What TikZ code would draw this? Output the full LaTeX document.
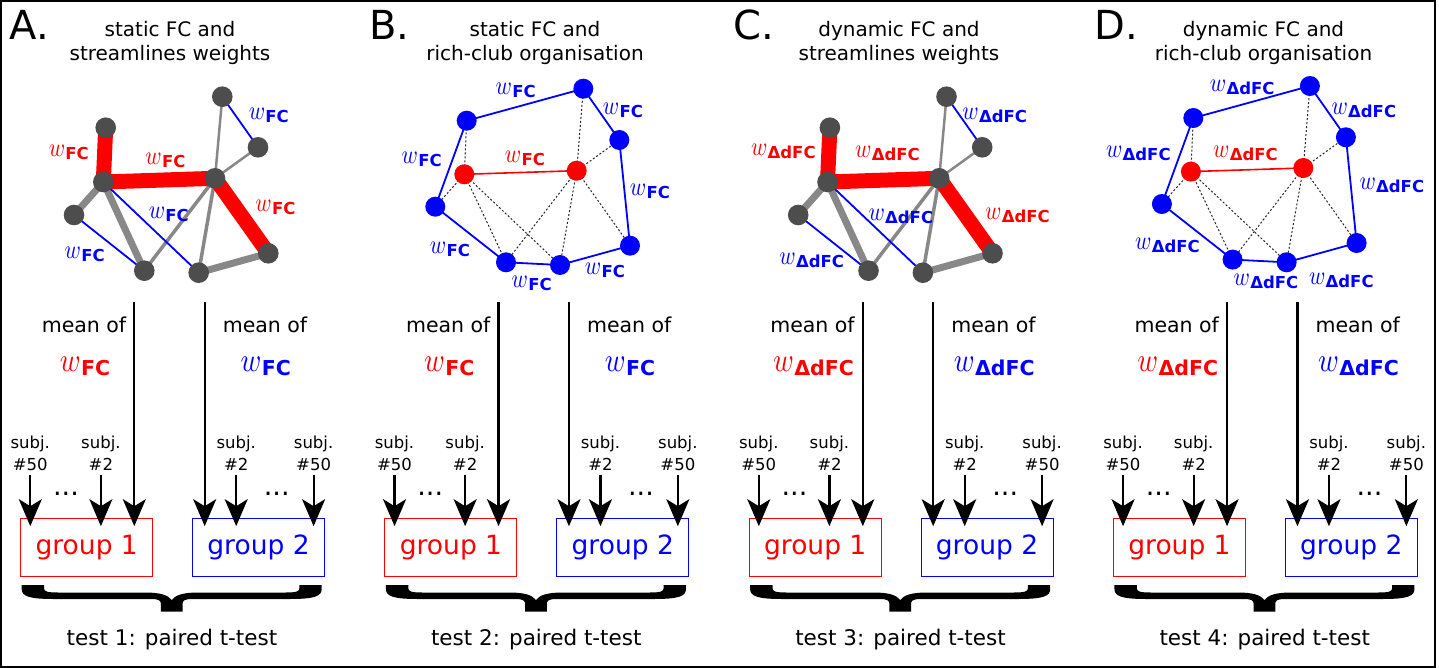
\documentclass[tikz,border=0pt]{standalone}
\usepackage[no-math]{fontspec}
\setmainfont{DejaVu Sans}
\DeclareFontFamily{OML}{cmm}{\skewchar\font'177}
\DeclareFontShape{OML}{cmm}{m}{it}{<->cmmi10}{}
\usetikzlibrary{arrows.meta,calc,backgrounds}
\definecolor{ngray}{RGB}{77,77,77}
\definecolor{egray}{RGB}{136,136,136}
\newcommand{\wl}[1]{\fontsize{22}{24}\selectfont\scalebox{1}[1.2]{$w$}\kern0.3pt\raisebox{-3pt}{\fontsize{16.5}{18}\selectfont\bfseries #1}}
\newcommand{\wL}[1]{\fontsize{28}{30}\selectfont\scalebox{1}[1.2]{$w$}\kern0.4pt\raisebox{-3.8pt}{\fontsize{20.5}{22}\selectfont\bfseries #1}}
\newcommand{\streamgraph}{%
  \node[gnode] (n1) at (105.7,127.7) {};
  \node[gnode] (n2) at (103.3,182) {};
  \node[gnode] (n3) at (74,215) {};
  \node[gnode] (n4) at (144.3,270.7) {};
  \node[gnode] (n5) at (198.7,272.7) {};
  \node[gnode] (n6) at (215,178.3) {};
  \node[gnode] (n7) at (268.3,253.3) {};
  \node[gnode] (n8) at (222.3,96.7) {};
  \node[gnode] (n9) at (258,147.3) {};
  \begin{pgfonlayer}{background}
    \draw[graythick] (n2.center) -- (n3.center);
    \draw[graythick] (n2.center) -- (n4.center);
    \draw[graythick] (n5.center) -- (n7.center);
    \draw[graythin] (n4.center) -- (n6.center);
    \draw[graythin] (n5.center) -- (n6.center);
    \draw[graythinner] (n6.center) -- (n8.center);
    \draw[graythinner] (n6.center) -- (n9.center);
    \draw[blueedge] (n8.center) -- (n9.center);
    \draw[blueedge] (n3.center) -- (n4.center);
    \draw[blueedge] (n2.center) -- (n5.center);
    \draw[redthick] (n1.center) -- (n2.center);
    \draw[redthick] (n2.center) -- (n6.center);
    \draw[redthick] (n6.center) -- (n7.center);
  \end{pgfonlayer}
}
\newcommand{\richgraph}{%
  \node[bnode] (b1) at (466.7,120.7) {};
  \node[bnode] (b2) at (583.3,88.7) {};
  \node[bnode] (b3) at (619.3,140) {};
  \node[rnode] (b4) at (464.3,174.3) {};
  \node[rnode] (b5) at (576.7,170.7) {};
  \node[bnode] (b6) at (435.3,206.7) {};
  \node[bnode] (b7) at (630,245.7) {};
  \node[bnode] (b8) at (506,262.3) {};
  \node[bnode] (b9) at (560,265) {};
  \begin{pgfonlayer}{background}
    \draw[dotedge] (b4.center) -- (b1.center);
    \draw[dotedge] (b4.center) -- (b6.center);
    \draw[dotedge] (b4.center) -- (b8.center);
    \draw[dotedge] (b4.center) -- (b9.center);
    \draw[dotedge] (b5.center) -- (b2.center);
    \draw[dotedge] (b5.center) -- (b3.center);
    \draw[dotedge] (b5.center) -- (b8.center);
    \draw[dotedge] (b5.center) -- (b9.center);
    \draw[dotedge] (b5.center) -- (b7.center);
    \draw[blueedge] (b1.center) -- (b2.center) -- (b3.center) -- (b7.center) -- (b9.center) -- (b8.center) -- (b6.center) -- cycle;
    \draw[rededge] (b4.center) -- (b5.center);
  \end{pgfonlayer}
}
\newcommand{\lowerpart}[2]{%
  \node[meanlab] (m1) at (84,325) {mean of};
  \node[meanlab] (m2) at (265,325) {mean of};
  \node[wlab, text=red] (wa) at (85,366.7) {\wL{#1}};
  \node[wlab, text=blue] (wb) at (265.7,366.7) {\wL{#1}};
  \node[grp, draw=red, text=red] (g1) at (86.7,547.5) {group 1};
  \node[grp, draw=blue, text=blue] (g2) at (258.5,547.5) {group 2};
  \node[subj] (sa) at (30.3,470.7) {subj.\\\#50};
  \node[subj] (sb) at (100.9,470.7) {subj.\\\#2};
  \node[subj] (sc) at (236.2,470.7) {subj.\\\#2};
  \node[subj] (sd) at (313.6,470.7) {subj.\\\#50};
  \node[dotlab] (da) at (66,494) {...};
  \node[dotlab] (db) at (276.7,494) {...};
  \coordinate (ta) at (134.3,302);
  \coordinate (tb) at (204.7,302);
  \draw[arr] (ta) -- ($(ta |- g1.north)+(0,8.4)$);
  \draw[arr] (tb) -- ($(tb |- g2.north)+(0,8.4)$);
  \draw[arr] ([yshift=-4.3pt]sa.south) -- ($(sa.south |- g1.north)+(0,8.4)$);
  \draw[arr] ([yshift=-4.3pt]sb.south) -- ($(sb.south |- g1.north)+(0,8.4)$);
  \draw[arr] ([yshift=-4.3pt]sc.south) -- ($(sc.south |- g2.north)+(0,8.4)$);
  \draw[arr] ([yshift=-4.3pt]sd.south) -- ($(sd.south |- g2.north)+(0,8.4)$);
  \fill (21.7,585) -- (44,585) -- (44,588) .. controls (44,591.5) and (47,592.5) .. (58,592.5)
    -- (145,592.5) .. controls (160,592.5) and (168,595) .. (171.7,600)
    .. controls (175.4,595) and (183.4,592.5) .. (198.4,592.5) -- (285.4,592.5)
    .. controls (296.4,592.5) and (299.4,591.5) .. (299.4,588) -- (299.4,585) -- (321.7,585)
    -- (321.7,589) .. controls (321.7,596) and (315,599) .. (290,599) -- (192,599)
    .. controls (184,599) and (182.5,601) .. (182.5,604) -- (182.5,611.5) -- (160.9,611.5)
    -- (160.9,604) .. controls (160.9,601) and (159.4,599) .. (151.4,599) -- (53.4,599)
    .. controls (28.4,599) and (21.7,596) .. (21.7,589) -- cycle;
  \node[testlab] (tt) at (172,639.3) {test #2: paired t-test};
}
\begin{document}
\begin{tikzpicture}[x=1pt,y=-1pt,
  gnode/.style={circle, fill=ngray, minimum size=20.6pt, inner sep=0pt},
  bnode/.style={circle, fill=blue, minimum size=20pt, inner sep=0pt},
  rnode/.style={circle, fill=red, minimum size=20pt, inner sep=0pt},
  redthick/.style={red, line width=15pt},
  graythick/.style={egray, line width=7pt},
  graythin/.style={egray, line width=3.5pt},
  graythinner/.style={egray, line width=2.5pt},
  blueedge/.style={blue, line width=1.8pt},
  rededge/.style={red, line width=1.6pt},
  dotedge/.style={black!85, line width=1pt, dash pattern=on 2pt off 2pt},
  wlab/.style={inner sep=0pt},
  letter/.style={anchor=base west, inner sep=0pt, font=\fontsize{40}{44}\selectfont},
  title/.style={align=center, inner sep=0pt, font=\fontsize{20}{24.7}\selectfont},
  meanlab/.style={inner sep=0pt, font=\fontsize{20.5}{24}\selectfont},
  grp/.style={minimum width=132pt, minimum height=58.4pt, inner sep=0pt, line width=1pt, font=\fontsize{26.5}{30}\selectfont},
  subj/.style={anchor=south, align=center, inner sep=0pt, font=\fontsize{16.5}{21.7}\selectfont},
  dotlab/.style={inner sep=0pt, font=\fontsize{27}{30}\selectfont},
  testlab/.style={inner sep=0pt, font=\fontsize{21.5}{24}\selectfont},
  arr/.style={line width=2.2pt, -{Stealth[length=27pt,width=23pt,inset=7pt]}}
]
\useasboundingbox (0,0) rectangle (1439,668);
\draw[line width=2pt] (1,1) rectangle (1434.5,667);

\node[letter] (LA) at (9.7,39.3) {A.};
\node[letter] (LB) at (368.8,39.3) {B.};
\node[letter] (LC) at (733.5,39.3) {C.};
\node[letter] (LD) at (1094,39.3) {D.};

\node[title] (TA) at (170,43.1) {static FC and\\streamlines weights};
\node[title] (TB) at (535,43.1) {static FC and\\rich-club organisation};
\node[title] (TC) at (899,43.1) {dynamic FC and\\streamlines weights};
\node[title] (TD) at (1263.5,43.1) {dynamic FC and\\rich-club organisation};

% Panel A graph
\begin{scope}[name prefix=A-]
  \streamgraph
  \node[wlab,text=red] (l1) at (68.8,152) {\wl{FC}};
  \node[wlab,text=red] (l2) at (165.5,160) {\wl{FC}};
  \node[wlab,text=red] (l3) at (275.5,207) {\wl{FC}};
  \node[wlab,text=blue] (l4) at (268.8,115) {\wl{FC}};
  \node[wlab,text=blue] (l5) at (168.8,214) {\wl{FC}};
  \node[wlab,text=blue] (l6) at (84.7,254) {\wl{FC}};
\end{scope}

% Panel B graph
\begin{scope}[name prefix=B-]
  \richgraph
  \node[wlab,text=blue] (l1) at (515.7,90.7) {\wl{FC}};
  \node[wlab,text=blue] (l2) at (623,110) {\wl{FC}};
  \node[wlab,text=blue] (l3) at (421.7,159) {\wl{FC}};
  \node[wlab,text=red] (l4) at (525,158.7) {\wl{FC}};
  \node[wlab,text=blue] (l5) at (650,191.7) {\wl{FC}};
  \node[wlab,text=blue] (l6) at (450,249) {\wl{FC}};
  \node[wlab,text=blue] (l7) at (531.7,283.3) {\wl{FC}};
  \node[wlab,text=blue] (l8) at (605,270) {\wl{FC}};
\end{scope}

% Panel C graph
\begin{scope}[xshift=724.2pt, name prefix=C-]
  \streamgraph
  \node[wlab,text=red] (l1) at (59.1,151.7) {\wl{ΔdFC}};
  \node[wlab,text=red] (l2) at (163.3,153.3) {\wl{ΔdFC}};
  \node[wlab,text=red] (l3) at (293.3,215) {\wl{ΔdFC}};
  \node[wlab,text=blue] (l4) at (270.5,115) {\wl{ΔdFC}};
  \node[wlab,text=blue] (l5) at (176.6,216.7) {\wl{ΔdFC}};
  \node[wlab,text=blue] (l6) at (87.5,260) {\wl{ΔdFC}};
\end{scope}

% Panel D graph
\begin{scope}[xshift=726.6pt, yshift=2.7pt, name prefix=D-]
  \richgraph
  \node[wlab,text=blue] (l1) at (515.6,90) {\wl{ΔdFC}};
  \node[wlab,text=blue] (l2) at (637.2,112.7) {\wl{ΔdFC}};
  \node[wlab,text=blue] (l3) at (411.7,156) {\wl{ΔdFC}};
  \node[wlab,text=red] (l4) at (518.9,156) {\wl{ΔdFC}};
  \node[wlab,text=blue] (l5) at (665.2,187.7) {\wl{ΔdFC}};
  \node[wlab,text=blue] (l6) at (440.9,247.7) {\wl{ΔdFC}};
  \node[wlab,text=blue] (l7) at (539.4,284.4) {\wl{ΔdFC}};
  \node[wlab,text=blue] (l8) at (614.7,282.7) {\wl{ΔdFC}};
\end{scope}

% Lower parts
\begin{scope}[name prefix=P1-]
  \lowerpart{FC}{1}
\end{scope}
\begin{scope}[xshift=364.25pt, name prefix=P2-]
  \lowerpart{FC}{2}
\end{scope}
\begin{scope}[xshift=728.5pt, name prefix=P3-]
  \lowerpart{ΔdFC}{3}
\end{scope}
\begin{scope}[xshift=1092.75pt, name prefix=P4-]
  \lowerpart{ΔdFC}{4}
\end{scope}
\end{tikzpicture}
\end{document}
